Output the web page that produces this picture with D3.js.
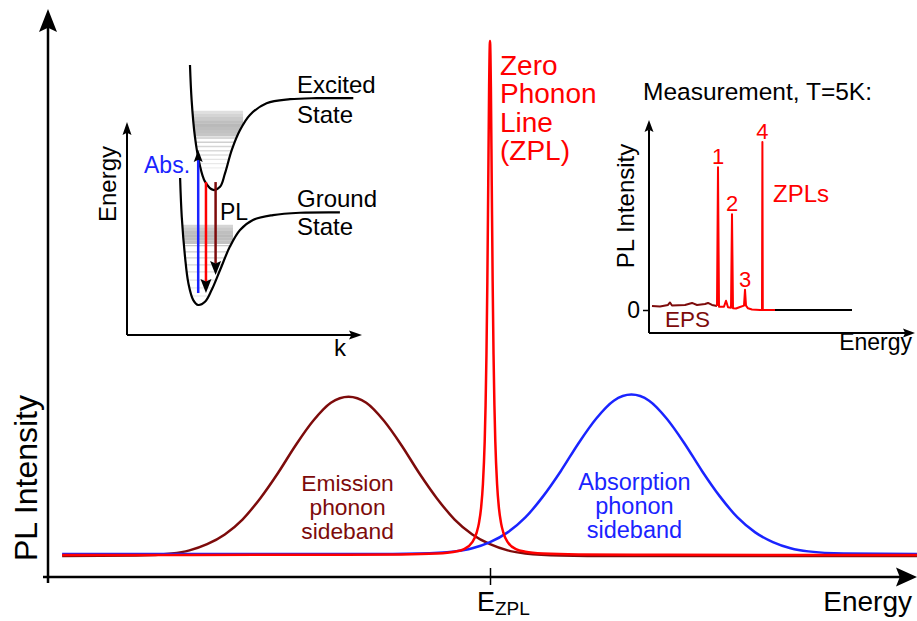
<!DOCTYPE html>
<html>
<head>
<meta charset="utf-8">
<script src="https://cdn.jsdelivr.net/npm/d3@7"></script>
<style>
body { margin: 0; background: #fff; }
svg text { font-family: "Liberation Sans", Arial, Helvetica, sans-serif; }
</style>
</head>
<body>
<svg id="chart"></svg>
<script>
const WIDTH = 917;
const HEIGHT = 621;
const RED = "#ff0000";
const DARKRED = "#7d0b0b";
const BLUE = "#1a24ff";

// ---- main spectrum (energy relative to E_ZPL, intensity with ZPL peak = 100)
const emissionE = [-48.4, -40, -36, -34, -32, -30, -28, -26, -24, -22, -20, -18, -16, -14, -12, -10, -8, -6, -4, -2, 0, 2, 4, 8, 14, 48.3];
const emissionI = [0, 0.1, 0.5, 1.1, 2.3, 4.2, 7.1, 11.2, 16.1, 21.5, 26.3, 29.8, 31, 29.8, 26.3, 21.5, 16.1, 11.2, 7.1, 4.2, 2.3, 1.1, 0.5, 0.1, 0, 0];

const absorptionE = [-48.4, -14, -8, -4, -2, 0, 2, 4, 6, 8, 10, 12, 14, 16, 18, 20, 22, 24, 26, 28, 30, 32, 34, 36, 40, 48.3];
const absorptionI = [0, 0, 0.1, 0.5, 1.1, 2.3, 4.2, 7.1, 11.2, 16.1, 21.5, 26.3, 29.8, 31, 29.8, 26.3, 21.5, 16.1, 11.2, 7.1, 4.2, 2.3, 1.1, 0.5, 0.1, 0];

const zplE = [-48.4, -20, -10, -6, -4, -3, -2, -1.5, -1.25, -1, -0.8, -0.6, -0.5, -0.4, -0.3, -0.2, -0.1, 0, 0.1, 0.2, 0.3, 0.4, 0.5, 0.6, 0.8, 1, 1.25, 1.5, 2, 3, 4, 6, 10, 20, 48.3];
const zplI = [0, 0.03, 0.1, 0.28, 0.64, 1.1, 2.5, 4.4, 6.2, 9.3, 13.8, 22.1, 29.1, 39, 53.2, 71.9, 91.1, 100, 91.1, 71.9, 53.2, 39, 29.1, 22.1, 13.8, 9.3, 6.2, 4.4, 2.5, 1.1, 0.64, 0.28, 0.1, 0.03, 0];

const emissionLabel = ["Emission", "phonon", "sideband"];
const absorptionLabel = ["Absorption", "phonon", "sideband"];
const zplLabel = ["Zero", "Phonon", "Line", "(ZPL)"];

// ---- inset 1: configuration diagram (k 0..100, energy 0..100)
const groundK = [22.6, 23.3, 24.7, 26.1, 28.2, 30.3, 33.2, 36.0, 39.6, 43.8, 48.1, 53.6, 62.1, 73.6, 90.6];
const groundE = [73.7, 55.5, 36.6, 24.4, 16.4, 14.1, 15.6, 21.1, 30.5, 41.5, 49.3, 54.0, 56.3, 57.4, 57.6];
const excitedK = [26.8, 27.5, 28.9, 30.8, 33.2, 36.7, 39.6, 41.7, 44.6, 48.1, 52.3, 59.4, 69.4, 80.7, 96.3];
const excitedE = [126.8, 110.3, 93.1, 80.6, 72.0, 68.1, 69.6, 75.9, 86.9, 96.2, 103.3, 108.8, 110.7, 111.2, 111.2];
const excitedLevels = [104.5, 103, 101.5, 100, 98.5, 97, 95.5, 94, 92.5, 90.5, 88.5, 86.5, 84.5, 82.5, 80.5, 78.5];
const groundLevels = [51, 49.5, 48, 46.5, 45, 43.5, 42, 39, 36.2, 32.9, 29.6, 25.8, 22.1, 18.3];
const transitionK = [30.3, 33.6, 37.7];
const transitionFrom = [19.7, 71.8, 71.8];
const transitionTo = [86.9, 19.7, 28.2];

// ---- inset 2: measured spectrum (energy 0..100, intensity 0..100)
const epsE = [0, 4, 8, 9, 10, 16.5, 20, 22.5, 26.5, 28, 30, 32.5];
const epsI = [2.4, 2.1, 3.0, 4.5, 2.7, 3.0, 4.2, 3.0, 3.6, 4.2, 3.0, 2.4];
const zplsE = [32.5, 33, 33.5, 36, 37, 38, 39.5, 40, 40.5, 42, 44, 46, 46.5, 47, 48, 50, 54, 55, 55.2, 55.4, 61.5];
const zplsI = [2.4, 85, 2.0, 2.0, 5.5, 1.6, 1.4, 57, 1.0, 0.9, 1.8, 2.6, 12, 2.6, 1.0, 0.3, 0, 0, 100, 0, 0];
const tailE = [61.5, 100];
const tailI = [0, 0];
const peakE = [33, 40, 46.5, 55.2];
const peakI = [85, 57, 12, 100];
const peakLabels = ["1", "2", "3", "4"];

const svg = d3.select("#chart")
    .attr("width", WIDTH)
    .attr("height", HEIGHT)
    .style("background", "#fff");

function arrowHead(parent, tx, ty, angle, len, half, color) {
    parent.append("path")
        .attr("d", `M0,0 L${-len},${-half} L${-len * 0.82},0 L${-len},${half} Z`)
        .attr("transform", `translate(${tx},${ty}) rotate(${angle})`)
        .attr("fill", color);
}

function zipPts(xs, ys) {
    return xs.map((v, i) => [v, ys[i]]);
}

// one <text> with a tspan per line
function multiline(parent, lines, px, py, step, size, color, anchor) {
    const t = parent.append("text")
        .attr("x", px).attr("y", py)
        .attr("font-size", size)
        .attr("fill", color)
        .attr("text-anchor", anchor);
    lines.forEach((s, i) => {
        t.append("tspan").attr("x", px).attr("dy", i === 0 ? 0 : step).text(s);
    });
    return t;
}

// ================= main chart
const x = d3.scaleLinear().domain([-50, 50]).range([48, 932]);
const y = d3.scaleLinear().domain([0, 100]).range([556, 42]);

const xAxis = svg.append("g")
    .attr("transform", "translate(0,577)")
    .call(d3.axisBottom(x).tickValues([0]).tickSize(8).tickSizeOuter(0).tickFormat(""));
xAxis.select(".domain").remove();
xAxis.selectAll(".tick line").attr("y1", -9).attr("y2", 8).attr("stroke-width", 1.5);

svg.append("line").attr("x1", 43).attr("y1", 577).attr("x2", 902).attr("y2", 577)
    .attr("stroke", "#000").attr("stroke-width", 2.5);
arrowHead(svg, 917, 577, 0, 21, 9.5, "#000");
svg.append("line").attr("x1", 48).attr("y1", 583).attr("x2", 48).attr("y2", 26)
    .attr("stroke", "#000").attr("stroke-width", 2.5);
arrowHead(svg, 48, 9, -90, 23, 9, "#000");

const line = d3.line().x(d => x(d[0])).y(d => y(d[1])).curve(d3.curveMonotoneX);
const series = [
    { pts: zipPts(emissionE, emissionI), color: DARKRED, lift: 0 },
    { pts: zipPts(absorptionE, absorptionI), color: BLUE, lift: 0.4 },
    { pts: zipPts(zplE, zplI), color: RED, lift: 0.2 }
];
series.forEach(s => {
    svg.append("path")
        .attr("d", line(s.pts.map(p => [p[0], p[1] + s.lift])))
        .attr("fill", "none")
        .attr("stroke", s.color)
        .attr("stroke-width", 2.5);
});

svg.append("text")
    .attr("transform", "translate(37,478) rotate(-90)")
    .attr("text-anchor", "middle")
    .attr("font-size", 32)
    .text("PL Intensity");

svg.append("text")
    .attr("x", 912).attr("y", 611)
    .attr("text-anchor", "end")
    .attr("font-size", 28)
    .text("Energy");

const ezpl = svg.append("text")
    .attr("x", x(0) - 13).attr("y", 611)
    .attr("font-size", 27);
ezpl.append("tspan").text("E");
ezpl.append("tspan").attr("font-size", 19).attr("dy", 4).text("ZPL");

const emissionPeak = emissionE[emissionI.indexOf(d3.max(emissionI))];
const absorptionPeak = absorptionE[absorptionI.indexOf(d3.max(absorptionI))];
multiline(svg, emissionLabel, x(emissionPeak) - 1, 491, 23.8, 22.8, DARKRED, "middle");
multiline(svg, absorptionLabel, x(absorptionPeak) + 3, 490, 23.8, 23.5, BLUE, "middle");
multiline(svg, zplLabel, x(0) + 10, 75, 28.3, 28, RED, "start");

// ================= inset 1: configuration coordinate diagram
const kx = d3.scaleLinear().domain([0, 100]).range([127, 362]);
const ke = d3.scaleLinear().domain([0, 100]).range([335, 122]);
const inset1 = svg.append("g");
const defs = svg.append("defs");

const excitedPts = zipPts(excitedK, excitedE);
const groundPts = zipPts(groundK, groundE);

defs.append("clipPath").attr("id", "wellExcited").append("path")
    .attr("d", d3.line()(excitedPts.slice(0, 10).concat([[49.4, 98.5], [49.4, 130], [26.8, 130]])
        .map(p => [kx(p[0]), ke(p[1])])) + "Z");
defs.append("clipPath").attr("id", "wellGround").append("path")
    .attr("d", d3.line()(groundPts.slice(0, 10).concat([[45.1, 44], [45.1, 73.7]])
        .map(p => [kx(p[0]), ke(p[1])])) + "Z");

const excitedShade = d3.scaleLinear().domain([105, 99, 92, 78]).range(["#e2e2e2", "#b8b8b8", "#cccccc", "#efefef"]);
const groundShade = d3.scaleLinear().domain([52, 47, 42, 18]).range(["#dcdcdc", "#b8b8b8", "#c8c8c8", "#eeeeee"]);

function drawLevels(levels, shade, clipId) {
    const g = inset1.append("g").attr("clip-path", `url(#${clipId})`);
    levels.forEach((lv, i) => {
        const gap = i < levels.length - 1 ? lv - levels[i + 1] : 3;
        g.append("line")
            .attr("x1", kx(15)).attr("x2", kx(60))
            .attr("y1", ke(lv)).attr("y2", ke(lv))
            .attr("stroke", shade(lv))
            .attr("stroke-width", gap <= 1.6 ? (ke(0) - ke(gap)) + 0.2 : 1.3);
    });
}
drawLevels(excitedLevels, excitedShade, "wellExcited");
drawLevels(groundLevels, groundShade, "wellGround");

const kline = d3.line().x(d => kx(d[0])).y(d => ke(d[1])).curve(d3.curveCatmullRom.alpha(0.5));
[excitedPts, groundPts].forEach(pts => {
    inset1.append("path").attr("d", kline(pts))
        .attr("fill", "none").attr("stroke", "#000").attr("stroke-width", 2.2);
});

const transColors = [BLUE, RED, DARKRED];
transitionK.forEach((k, i) => {
    const up = transitionTo[i] > transitionFrom[i];
    const head = up ? 12 : 14;
    const tipY = ke(transitionTo[i]);
    inset1.append("line")
        .attr("x1", kx(k)).attr("x2", kx(k))
        .attr("y1", ke(transitionFrom[i]))
        .attr("y2", up ? tipY + head * 0.8 : tipY - head * 0.8)
        .attr("stroke", transColors[i]).attr("stroke-width", 2.5);
    arrowHead(inset1, kx(k), tipY, up ? -90 : 90, head, up ? 4.5 : 5.5, "#000");
});

// axes
inset1.append("line").attr("x1", 127).attr("y1", 335).attr("x2", 127).attr("y2", 132)
    .attr("stroke", "#000").attr("stroke-width", 2);
arrowHead(inset1, 127, 122, -90, 13, 4.5, "#000");
inset1.append("line").attr("x1", 127).attr("y1", 335).attr("x2", 352).attr("y2", 335)
    .attr("stroke", "#000").attr("stroke-width", 2);
arrowHead(inset1, 362, 335, 0, 13, 4.5, "#000");

inset1.append("text").attr("transform", "translate(116,184) rotate(-90)")
    .attr("text-anchor", "middle").attr("font-size", 24).text("Energy");
inset1.append("text").attr("x", 334).attr("y", 356).attr("font-size", 24).text("k");
inset1.append("text").attr("x", 144).attr("y", 173).attr("font-size", 23).attr("fill", BLUE).text("Abs.");
inset1.append("text").attr("x", 220).attr("y", 220).attr("font-size", 23).text("PL");
multiline(inset1, ["Excited", "State"], 297, 93, 30, 24, "#000", "start");
multiline(inset1, ["Ground", "State"], 297, 207, 28, 24, "#000", "start");

// ================= inset 2: measurement
const sx = d3.scaleLinear().domain([0, 100]).range([652, 852]);
const sy = d3.scaleLinear().domain([0, 100]).range([310, 142]);
const inset2 = svg.append("g");

inset2.append("text").attr("x", 643).attr("y", 100).attr("font-size", 24.5).text("Measurement, T=5K:");

inset2.append("line").attr("x1", 649).attr("y1", 333).attr("x2", 649).attr("y2", 130)
    .attr("stroke", "#000").attr("stroke-width", 2);
arrowHead(inset2, 649, 120, -90, 12, 4.5, "#000");
inset2.append("line").attr("x1", 649).attr("y1", 333).attr("x2", 905).attr("y2", 333)
    .attr("stroke", "#000").attr("stroke-width", 2);
arrowHead(inset2, 915, 333, 0, 12, 4.5, "#000");

const yAx2 = inset2.append("g").attr("transform", "translate(649,0)")
    .call(d3.axisLeft(sy).tickValues([0]).tickSize(6).tickSizeOuter(0).tickPadding(3));
yAx2.select(".domain").remove();
yAx2.selectAll(".tick line").attr("stroke-width", 1.5);
yAx2.selectAll(".tick text").attr("font-size", 23)
    .attr("font-family", "'Liberation Sans', Arial, Helvetica, sans-serif");

const sline = d3.line().x(d => sx(d[0])).y(d => sy(d[1]));
[[epsE, epsI, DARKRED], [tailE, tailI, "#000"], [zplsE, zplsI, RED]].forEach(s => {
    inset2.append("path").attr("d", sline(zipPts(s[0], s[1])))
        .attr("fill", "none").attr("stroke", s[2]).attr("stroke-width", 2)
        .attr("stroke-linejoin", "round");
});

peakLabels.forEach((t, i) => {
    inset2.append("text").attr("x", sx(peakE[i])).attr("y", sy(peakI[i]) - 3)
        .attr("text-anchor", "middle").attr("font-size", 22).attr("fill", RED).text(t);
});
inset2.append("text").attr("x", 773).attr("y", 202).attr("font-size", 24).attr("fill", RED).text("ZPLs");
inset2.append("text").attr("x", 665).attr("y", 327).attr("font-size", 22.5).attr("fill", DARKRED).text("EPS");
inset2.append("text").attr("transform", "translate(634,206) rotate(-90)")
    .attr("text-anchor", "middle").attr("font-size", 24).text("PL Intensity");
inset2.append("text").attr("x", 912).attr("y", 350).attr("text-anchor", "end")
    .attr("font-size", 23).text("Energy");
</script>
</body>
</html>
